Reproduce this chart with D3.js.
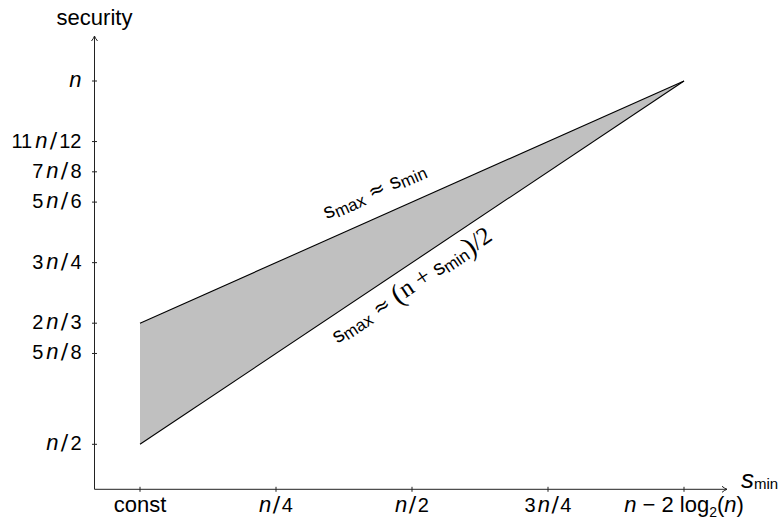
<!DOCTYPE html>
<html><head><meta charset="utf-8">
<script src="https://cdn.jsdelivr.net/npm/d3@7"></script>
<style>body{margin:0;background:#fff} svg{display:block} text{white-space:pre}</style>
</head><body><svg id="c" width="781" height="519"></svg>
<script>
// ---- data ----
const xTicks = [0, 0.25, 0.5, 0.75, 1];
const xTickLabels = ["const", "{n}/4", "{n}/2", "3{n}/4", "{n} − 2 log_2({n})"];
const yTicks = [1/2, 5/8, 2/3, 3/4, 5/6, 7/8, 11/12, 1];
const yTickLabels = ["{n}/2", "5{n}/8", "2{n}/3", "3{n}/4", "5{n}/6", "7{n}/8", "11{n}/12", "{n}"];
const smin = [0, 1];               // const .. n - 2 log2(n)
const upperSecurity = [2/3, 1];    // s_max ≈ s_min
const lowerSecurity = [1/2, 1];    // s_max ≈ (n + s_min)/2
const yTitle = "security";
const xTitle = "s", xTitleSub = "min";

// ---- layout ----
const sans = "'Liberation Sans', Arial, Helvetica, sans-serif";
const serif = "'Liberation Serif', 'Times New Roman', serif";
const dejavu = "'DejaVu Sans', sans-serif";
const svg = d3.select("#c");
const x = d3.scaleLinear().domain([0, 1]).range([140, 684]);
const y = d3.scaleLinear().domain([0.5, 1]).range([444.3, 81]);
const ox = 94.5, oy = 489.3, xEnd = 727, yEnd = 36;

const band = smin.map((v, i) => ({x: v, lo: lowerSecurity[i], hi: upperSecurity[i]}));

// filled region
svg.append("path").datum(band)
  .attr("d", d3.area().x(d => x(d.x)).y0(d => y(d.lo)).y1(d => y(d.hi)))
  .attr("fill", "#c0c0c0").attr("stroke", "none");
// boundary lines
const line = d3.line().x(d => x(d.x)).y(d => y(d.v));
svg.append("path").datum(band.map(d => ({x: d.x, v: d.hi})))
  .attr("d", line).attr("fill", "none").attr("stroke", "#000").attr("stroke-width", 1.1);
svg.append("path").datum(band.map(d => ({x: d.x, v: d.lo})))
  .attr("d", line).attr("fill", "none").attr("stroke", "#000").attr("stroke-width", 1.1);

// axes lines with arrows
const axc = "#222";
svg.append("line").attr("x1", ox).attr("y1", oy).attr("x2", xEnd).attr("y2", oy).attr("stroke", axc);
svg.append("line").attr("x1", ox).attr("y1", oy).attr("x2", ox).attr("y2", yEnd).attr("stroke", axc);
svg.append("path").attr("d", `M${xEnd-5},${oy-3} Q${xEnd-2},${oy-0.6} ${xEnd},${oy} Q${xEnd-2},${oy+0.6} ${xEnd-5},${oy+3}`)
  .attr("fill", "none").attr("stroke", axc);
svg.append("path").attr("d", `M${ox-3},${yEnd+5} Q${ox-0.6},${yEnd+2} ${ox},${yEnd} Q${ox+0.6},${yEnd+2} ${ox+3},${yEnd+5}`)
  .attr("fill", "none").attr("stroke", axc);

// ticks
svg.append("g").selectAll("line").data(xTicks).join("line")
  .attr("x1", d => x(d)).attr("x2", d => x(d)).attr("y1", oy - 2.5).attr("y2", oy + 2.5).attr("stroke", axc);
svg.append("g").selectAll("line").data(yTicks).join("line")
  .attr("y1", d => y(d)).attr("y2", d => y(d)).attr("x1", ox - 2.5).attr("x2", ox + 2.5).attr("stroke", axc);

// math-ish label rendering
function renderMath(t, str, o) {
  const re = /\{([^}]*)\}|_(.)|(\/)|([^{_\/]+)/g;
  let m, shift = 0, prev = null;
  while ((m = re.exec(str)) !== null) {
    const ts = t.append("tspan");
    let dy = 0, dx = 0;
    if (m[2] !== undefined) { dy = o.subDy - shift; shift = o.subDy; ts.text(m[2]).attr("font-size", o.sub); }
    else {
      dy = -shift; shift = 0;
      if (m[1] !== undefined) {
        ts.text(m[1]).attr("font-style", "italic").attr("font-size", o.it);
        if (prev === "num") dx += o.itPad;
      } else if (m[3] !== undefined) {
        ts.text("/").attr("font-size", o.slash).attr("font-family", dejavu);
        dx += o.slashPad;
      } else {
        const isNum = /^[0-9]+$/.test(m[4]);
        ts.text(m[4]).attr("font-size", isNum ? o.num : o.txt);
        if (prev === "slash") dx += o.slashPad;
      }
    }
    prev = m[2] !== undefined ? "sub" : m[1] !== undefined ? "it" : m[3] !== undefined ? "slash" : (/^[0-9]+$/.test(m[4]) ? "num" : "txt");
    if (dy) ts.attr("dy", dy);
    if (dx) ts.attr("dx", dx);
  }
}
const mOpt = {txt: 22, num: 20, it: 22, sub: 14, subDy: 5, slash: 22, slashPad: 2.2, itPad: 3};

svg.append("g").selectAll("text").data(yTicks).join("text")
  .attr("x", ox - 13).attr("y", d => y(d) + 6).attr("text-anchor", "end")
  .attr("font-family", sans).attr("fill", "#000")
  .each(function(d, i) { renderMath(d3.select(this), yTickLabels[i], mOpt); });

svg.append("g").selectAll("text").data(xTicks).join("text")
  .attr("x", d => x(d)).attr("y", oy + 23).attr("text-anchor", "middle")
  .attr("font-family", sans).attr("fill", "#000")
  .each(function(d, i) { renderMath(d3.select(this), xTickLabels[i], Object.assign({}, mOpt, {slashPad: 1.5, itPad: 2})); });

// axis titles
svg.append("text").attr("x", ox).attr("y", 25).attr("text-anchor", "middle")
  .attr("font-family", sans).attr("font-size", 22).text(yTitle);
const xt = svg.append("text").attr("x", 741).attr("y", oy - 1).attr("font-family", sans);
xt.append("tspan").text(xTitle).attr("font-style", "italic").attr("font-size", 26);
xt.append("tspan").text(xTitleSub).attr("font-size", 15).attr("dy", 1);

// sloped annotations
const lab1 = [
  {t: "s", s: 21}, {t: "max", s: 17, dy: 3}, {t: " ≈ ", s: 20, dy: -3, f: dejavu},
  {t: "s", s: 21}, {t: "min", s: 17, dy: 3}
];
const lab2 = [
  {t: "s", s: 21}, {t: "max", s: 17, dy: 3}, {t: " ≈ ", s: 20, dy: -3, f: dejavu},
  {t: "(", s: 29, f: serif, dy: 2}, {t: "n", s: 25, f: serif, dy: -2}, {t: " + ", s: 25, f: serif},
  {t: "s", s: 21}, {t: "min", s: 17, dy: 3}, {t: ")", s: 29, f: serif, dy: -1}, {t: "/2", s: 25, f: serif, dy: -2}
];
function sloped(vals, tpos, off, segs) {
  const p0 = [x(smin[0]), y(vals[0])], p1 = [x(smin[1]), y(vals[1])];
  const ang = Math.atan2(p1[1] - p0[1], p1[0] - p0[0]);
  const fx = x(tpos), fy = p0[1] + (p1[1] - p0[1]) * (fx - p0[0]) / (p1[0] - p0[0]);
  const px = fx + off * Math.sin(ang), py = fy - off * Math.cos(ang);
  const t = svg.append("text").attr("text-anchor", "middle").attr("font-family", sans)
    .attr("transform", `translate(${px},${py}) rotate(${ang * 180 / Math.PI})`);
  segs.forEach(s => {
    const ts = t.append("tspan").text(s.t).attr("font-size", s.s);
    if (s.f) ts.attr("font-family", s.f);
    if (s.dy) ts.attr("dy", s.dy);
  });
}
sloped(upperSecurity, 0.45, 19, lab1);
sloped(lowerSecurity, 0.48, -26, lab2);
</script>
</body></html>
